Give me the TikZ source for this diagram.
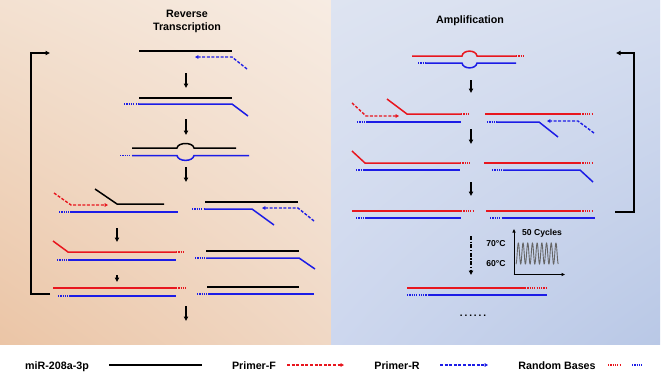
\documentclass[tikz,border=0pt]{standalone}
\usepackage{fontspec}
\setmainfont{Liberation Sans}
\usetikzlibrary{arrows.meta,shadings}
\definecolor{rd}{HTML}{E8161E}
\definecolor{bl}{HTML}{1C1CE6}
\definecolor{lLL}{HTML}{EBC5A6}
\definecolor{lLR}{HTML}{F0D8C5}
\definecolor{lUL}{HTML}{F3E1D1}
\definecolor{lUR}{HTML}{F7ECE3}
\definecolor{rUL}{HTML}{DEE4F1}
\definecolor{rUR}{HTML}{D6DEF0}
\definecolor{rLL}{HTML}{CDD7EE}
\definecolor{rLR}{HTML}{B9C8E6}
\definecolor{wave}{HTML}{666666}
\begin{document}
\begin{tikzpicture}[x=1pt,y=-1pt,
  strand/.style={line width=1.5pt},
  blk/.style={strand,black},
  rds/.style={strand,rd},
  bls/.style={strand,bl},
  rdot/.style={line width=1.5pt,rd,dash pattern=on 1.2pt off 1.1pt},
  bdot/.style={line width=1.5pt,bl,dash pattern=on 1.2pt off 1.1pt},
  pf/.style={line width=1.4pt,rd,dash pattern=on 3pt off 1.6pt,-{Triangle[length=3.4pt,width=3.6pt]}},
  pr/.style={line width=1.4pt,bl,dash pattern=on 3pt off 1.6pt,-{Triangle[length=3.4pt,width=3.6pt]}},
  downarr/.style={line width=1.3pt,-{Triangle[length=4.5pt,width=4.2pt]}},
  looparr/.style={line width=1.4pt,-{Triangle[length=4.5pt,width=4.2pt]}},
  lab/.style={font=\fontsize{10.7}{13}\selectfont\bfseries},
  small/.style={font=\fontsize{8.6}{10}\selectfont\bfseries}
]
\useasboundingbox (0,0) rectangle (662,373);
\fill[white] (0,0) rectangle (662,373);
% panels
\shade[lower left=lLL, lower right=lLR, upper left=lUL, upper right=lUR] (0,0) rectangle (331,344);
\shade[lower left=rLL, lower right=rLR, upper left=rUL, upper right=rUR] (331,0) rectangle (660,344);

% ---------------- Left panel ----------------
\node[lab,align=center] (tRT) at (187,21.5) {Reverse\\Transcription};
\draw[looparr] (50,294) -- (31,294) -- (31,53) -- (50,53);
% row 1
\draw[blk] (139,51) -- (232,51);
\draw[pr] (247,69) -- (232,57) -- (195,57);
\draw[downarr] (186,73) -- (186,88);
% row 2
\draw[blk] (139,98) -- (232,98);
\draw[bdot] (124,104) -- (139,104);
\draw[bls] (139,104) -- (232,104) -- (248,116);
\draw[downarr] (186,119) -- (186,135);
% row 3
\draw[blk] (132,148) -- (177,148) .. controls (178,142) and (193,142) .. (194,148) -- (236,148);
\draw[bdot] (120,155.5) -- (132,155.5);
\draw[bls] (132,155.5) -- (177,155.5) .. controls (178,162) and (193,162) .. (194,155.5) -- (249,155.5);
\draw[downarr] (186,167) -- (186,182);
% row 4 left
\draw[pf] (54,193) -- (71,205) -- (108,205);
\draw[blk] (95,189) -- (117,204) -- (164,204);
\draw[bdot] (59,212) -- (70,212);
\draw[bls] (70,212) -- (178,212);
% row 4 right
\draw[blk] (205,202) -- (298,202);
\draw[bdot] (192,209) -- (204,209);
\draw[bls] (204,209) -- (252,209) -- (274,225);
\draw[pr] (314,221) -- (298,208) -- (262,208);
\draw[downarr] (117,228) -- (117,242);
% row 5 left
\draw[rds] (53,241) -- (68,252) -- (176,252);
\draw[rdot] (176,252) -- (185,252);
\draw[bdot] (57,260) -- (68,260);
\draw[bls] (68,260) -- (176,260);
% row 5 right
\draw[blk] (206,251) -- (299,251);
\draw[bdot] (195,258) -- (206,258);
\draw[bls] (206,258) -- (299,258) -- (315,269);
\draw[downarr] (117,275) -- (117,282);
% row 6 left
\draw[rds] (53,288) -- (176,288);
\draw[rdot] (176,288) -- (186,288);
\draw[bdot] (58,296) -- (69,296);
\draw[bls] (69,296) -- (176,296);
% row 6 right
\draw[blk] (207,287) -- (299,287);
\draw[bdot] (197,294) -- (208,294);
\draw[bls] (208,294) -- (314,294);
\draw[downarr] (186,306) -- (186,321);

% ---------------- Right panel ----------------
\node[lab] (tA) at (470,21) {Amplification};
\draw[looparr] (615,212) -- (634,212) -- (634,53) -- (616,53);
% row 1
\draw[rds] (412,56) -- (462,56) .. controls (463,49.5) and (476,49.5) .. (477,56) -- (516,56);
\draw[rdot] (516,56) -- (524,56);
\draw[bdot] (418,63) -- (426,63);
\draw[bls] (426,63) -- (462,63) .. controls (463,69.5) and (476,69.5) .. (477,63) -- (516,63);
\draw[downarr] (471,80) -- (471,93);
% row 2 left
\draw[pf] (352,103) -- (366,116) -- (399,116);
\draw[rds] (387,99) -- (407,114) -- (461,114);
\draw[rdot] (461,114) -- (468,114);
\draw[bdot] (357,122) -- (366,122);
\draw[bls] (366,122) -- (461,122);
% row 2 right
\draw[rds] (485,114) -- (580,114);
\draw[rdot] (580,114) -- (592,114);
\draw[bdot] (487,122) -- (497,122);
\draw[bls] (497,122) -- (539,122) -- (558,137);
\draw[pr] (594,133) -- (578,121) -- (547,121);
\draw[downarr] (471,129) -- (471,144);
% row 3 left
\draw[rds] (352,151) -- (365,163) -- (460,163);
\draw[rdot] (460,163) -- (470,163);
\draw[bdot] (356,170) -- (364,170);
\draw[bls] (364,170) -- (460,170);
% row 3 right
\draw[rds] (484,163) -- (580,163);
\draw[rdot] (580,163) -- (592,163);
\draw[bdot] (492,170) -- (503,170);
\draw[bls] (503,170) -- (580,170) -- (593,182);
\draw[downarr] (471,182) -- (471,196);
% row 4 left
\draw[rds] (352,211) -- (461,211);
\draw[rdot] (461,211) -- (473,211);
\draw[bdot] (356,218) -- (365,218);
\draw[bls] (365,218) -- (461,218);
% row 4 right
\draw[rds] (486,211) -- (580,211);
\draw[rdot] (580,211) -- (592,211);
\draw[bdot] (490,218) -- (502,218);
\draw[bls] (502,218) -- (595,218);
% dashed step arrow
\draw[line width=1.3pt,dash pattern=on 4pt off 1.6pt on 1.2pt off 1.6pt,-{Triangle[length=4.5pt,width=4.2pt]}] (471,236) -- (471,275);
% thermal cycling chart
\draw[wave,line width=0.9pt] plot[domain=0:9,samples=300,smooth] ({516+\x*4.7},{253.5+10.5*cos(\x*360)});
\draw[line width=0.9pt,-{Triangle[length=3.5pt,width=3pt]}] (514,274.5) -- (514,229);
\draw[line width=0.9pt,-{Triangle[length=3.5pt,width=3pt]}] (513.5,274.5) -- (565,274.5);
\node[small] (cyc) at (542,233) {50 Cycles};
\node[small,anchor=east] (t70) at (509,244) {70°C};
\node[small,anchor=east] (t60) at (509,264) {60°C};
% final row
\draw[rds] (407,288) -- (525,288);
\draw[rdot] (525,288) -- (547,288);
\draw[bdot] (407,295) -- (429,295);
\draw[bls] (429,295) -- (547,295);
\node[font=\fontsize{10}{12}\selectfont\bfseries] (dots) at (473,316) {.\hspace{1.9pt}.\hspace{1.9pt}.\hspace{1.9pt}.\hspace{1.9pt}.\hspace{1.9pt}.};

% ---------------- Legend ----------------
\node[lab,anchor=base] (l1) at (57,369) {miR-208a-3p};
\draw[blk] (109,365) -- (202,365);
\node[lab,anchor=base] (l2) at (254,369) {Primer-F};
\draw[pf] (287,365) -- (344,365);
\node[lab,anchor=base] (l3) at (397,369) {Primer-R};
\draw[pr] (440,365) -- (488,365);
\node[lab,anchor=base] (l4) at (557,369) {Random Bases};
\draw[rdot] (608,365) -- (621,365);
\draw[bdot] (632,365) -- (643,365);
\end{tikzpicture}
\end{document}
